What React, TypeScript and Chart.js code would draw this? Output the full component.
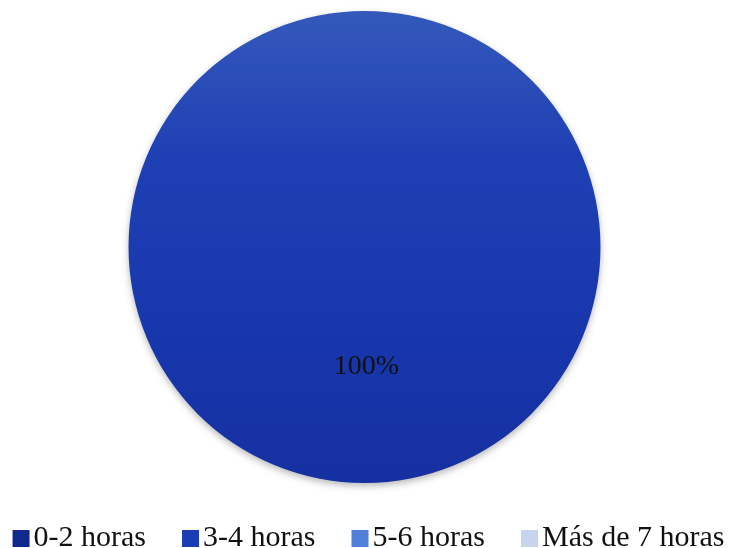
import React, { useEffect, useRef } from "react";
import { Chart, registerables } from "chart.js";

Chart.register(...registerables);

const categories = ["0-2 horas", "3-4 horas", "5-6 horas", "Más de 7 horas"];
const values = [0, 100, 0, 0];
const percentLabels = ["0%", "100%", "0%", "0%"];
const colors = ["#0f2a8c", "#1a3cb4", "#4f7fd9", "#c8d3ee"];

const FONT = '"Liberation Serif", "Times New Roman", serif';

const shadowAndLabels = {
  id: "shadowAndLabels",
  beforeDatasetsDraw(chart: any) {
    const ctx = chart.ctx;
    ctx.save();
    ctx.shadowColor = "rgba(0,0,0,0.28)";
    ctx.shadowBlur = 7;
    ctx.shadowOffsetX = 0;
    ctx.shadowOffsetY = 3;
  },
  afterDatasetsDraw(chart: any) {
    const ctx = chart.ctx;
    ctx.restore();
    const meta = chart.getDatasetMeta(0);
    ctx.save();
    ctx.font = `28px ${FONT}`;
    ctx.fillStyle = "#111";
    ctx.textAlign = "center";
    ctx.textBaseline = "middle";
    meta.data.forEach((el: any, i: number) => {
      if (values[i] > 0) {
        const p = el.tooltipPosition();
        ctx.fillText(percentLabels[i], p.x + 2, p.y + 2);
      }
    });
    ctx.restore();
  },
};

const customLegend = {
  id: "customLegend",
  afterDraw(chart: any) {
    const ctx = chart.ctx;
    ctx.save();
    ctx.font = `30px ${FONT}`;
    const box = 17;
    const boxGap = 4;
    const itemGap = 36;
    const widths = categories.map((c) => box + boxGap + ctx.measureText(c).width);
    const total = widths.reduce((a, b) => a + b, 0) + itemGap * (categories.length - 1);
    let x = (chart.width - total) / 2 + 4;
    const boxY = 530;
    const baseY = 546;
    categories.forEach((c, i) => {
      ctx.fillStyle = colors[i];
      ctx.fillRect(x, boxY, box, box);
      ctx.fillStyle = "#111";
      ctx.textAlign = "left";
      ctx.textBaseline = "alphabetic";
      ctx.fillText(c, x + box + boxGap, baseY);
      x += widths[i] + itemGap;
    });
    ctx.restore();
  },
};

export default function App() {
  const ref = useRef<HTMLCanvasElement>(null);
  useEffect(() => {
    document.body.style.margin = "0";
    if (!ref.current) return;
    const chart = new Chart(ref.current, {
      type: "pie",
      data: {
        labels: categories,
        datasets: [
          {
            data: values,
            backgroundColor: (c: any) => {
              const chart = c.chart;
              const area = chart.chartArea;
              const base = colors[c.dataIndex];
              if (!area || c.dataIndex !== 1) return base;
              const g = chart.ctx.createLinearGradient(0, area.top, 0, area.bottom);
              g.addColorStop(0, "#3459bb");
              g.addColorStop(0.3, "#1f40b4");
              g.addColorStop(0.7, "#1836ac");
              g.addColorStop(1, "#1530a0");
              return g;
            },
            borderWidth: 0,
          },
        ],
      },
      options: {
        responsive: true,
        maintainAspectRatio: false,
        animation: false,
        events: [],
        layout: { padding: { top: 11, bottom: 65, left: 0, right: 0 } },
        plugins: {
          legend: { display: false },
          tooltip: { enabled: false },
        },
      },
      plugins: [shadowAndLabels, customLegend],
    });
    return () => chart.destroy();
  }, []);
  return (
    <div style={{ width: 729, height: 548, position: "relative", background: "#fff" }}>
      <canvas ref={ref} />
    </div>
  );
}
